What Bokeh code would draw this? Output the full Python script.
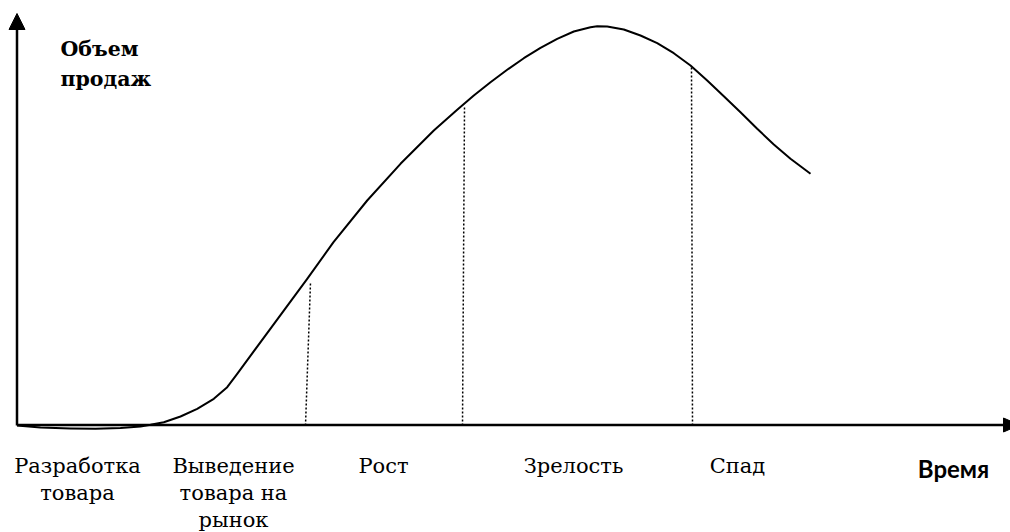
from bokeh.plotting import figure
from bokeh.models import Range1d
from bokeh.core.properties import value
from bokeh.embed import file_html
from bokeh.resources import INLINE

# ---- data (time units, sales units; origin at axes crossing) ----
curve_time = [1.5, 25, 55, 80, 105, 125, 135, 148.3, 165, 181.7, 198.3, 211.7, 221.7,
              291.7, 318, 351.7, 385, 418.3, 441.7, 458.3, 475, 491.7, 508.3, 525,
              541.7, 558.3, 575, 581.7, 591.7, 608.3, 625, 641.7, 658.3, 675, 691.7,
              708.3, 725, 741.7, 758.3, 775, 795]
curve_sales = [0, -2, -3, -3.3, -2.5, -1, 0.7, 3.3, 9, 16.7, 26.7, 38.3, 51.7,
               146.7, 183.3, 225, 261.7, 295, 315.7, 330, 343.3, 355.7, 367.3, 377.7,
               386.7, 394, 398.3, 399.3, 399, 396, 390, 382.3, 372.3, 360, 345,
               329.3, 313.3, 296.7, 281, 266.7, 251.7]

boundary_time_bottom = [290, 447, 677]
boundary_time_top = [295, 449, 676]
boundary_sales_top = [143, 318, 358]

stage_labels = ["Разработка\nтовара", "Выведение\nтовара на\nрынок", "Рост", "Зрелость", "Спад"]
stage_label_time = [62, 218, 368, 558, 722]

y_axis_label = "Объем\nпродаж"
x_axis_label = "Время"

axis_time_max = 988
axis_sales_max = 396

# ---- figure ----
p = figure(width=1010, height=532, output_backend="svg", toolbar_location=None,
           x_range=Range1d(-15, 995), y_range=Range1d(-107, 425),
           min_border=0)
p.axis.visible = False
p.grid.visible = False
p.outline_line_color = None
p.background_fill_color = "white"
p.border_fill_color = "white"

# axes lines
p.line([1.5, 1.5], [0, axis_sales_max], line_width=2.5, line_color="black")
p.line([1.5, axis_time_max], [0.5, 0.5], line_width=2.7, line_color="black")
# arrowheads
p.patch([1.5 - 8, 1.5 + 8, 1.5], [axis_sales_max, axis_sales_max, axis_sales_max + 16],
        fill_color="black", line_color="black")
p.patch([axis_time_max, axis_time_max, axis_time_max + 16], [7.5, -6.5, 0.5],
        fill_color="black", line_color="black")

# curve
p.line(curve_time, curve_sales, line_width=2, line_color="black", line_join="round")

# stage boundaries (dotted)
for xb, xt, yt in zip(boundary_time_bottom, boundary_time_top, boundary_sales_top):
    p.line([xb, xt], [0, yt], line_width=1.5, line_color="black", line_dash="2 2")

# stage labels
serif = value("DejaVu Serif")
line_gap = 27
tx, ty, tt = [], [], []
for lab, xc in zip(stage_labels, stage_label_time):
    for i, ln in enumerate(lab.split("\n")):
        tx.append(xc)
        ty.append(-40 - i * line_gap)
        tt.append(ln)
p.text(x=tx, y=ty, text=tt, text_font=serif, text_font_size="21px",
       text_align="center", text_baseline="alphabetic", text_color="black")

# y axis title
yl = y_axis_label.split("\n")
p.text(x=[45] * len(yl), y=[377 - 30 * i for i in range(len(yl))], text=yl,
       text_font=serif, text_font_size="20.5px", text_font_style="bold",
       text_align="left", text_baseline="alphabetic", text_color="black")

# x axis title
p.text(x=[938], y=[-43], text=[x_axis_label], text_font=value("Lato"),
       text_font_size="24px", text_font_style="bold",
       text_align="center", text_baseline="alphabetic", text_color="black")

open("out.html", "w").write(file_html(p, INLINE))
